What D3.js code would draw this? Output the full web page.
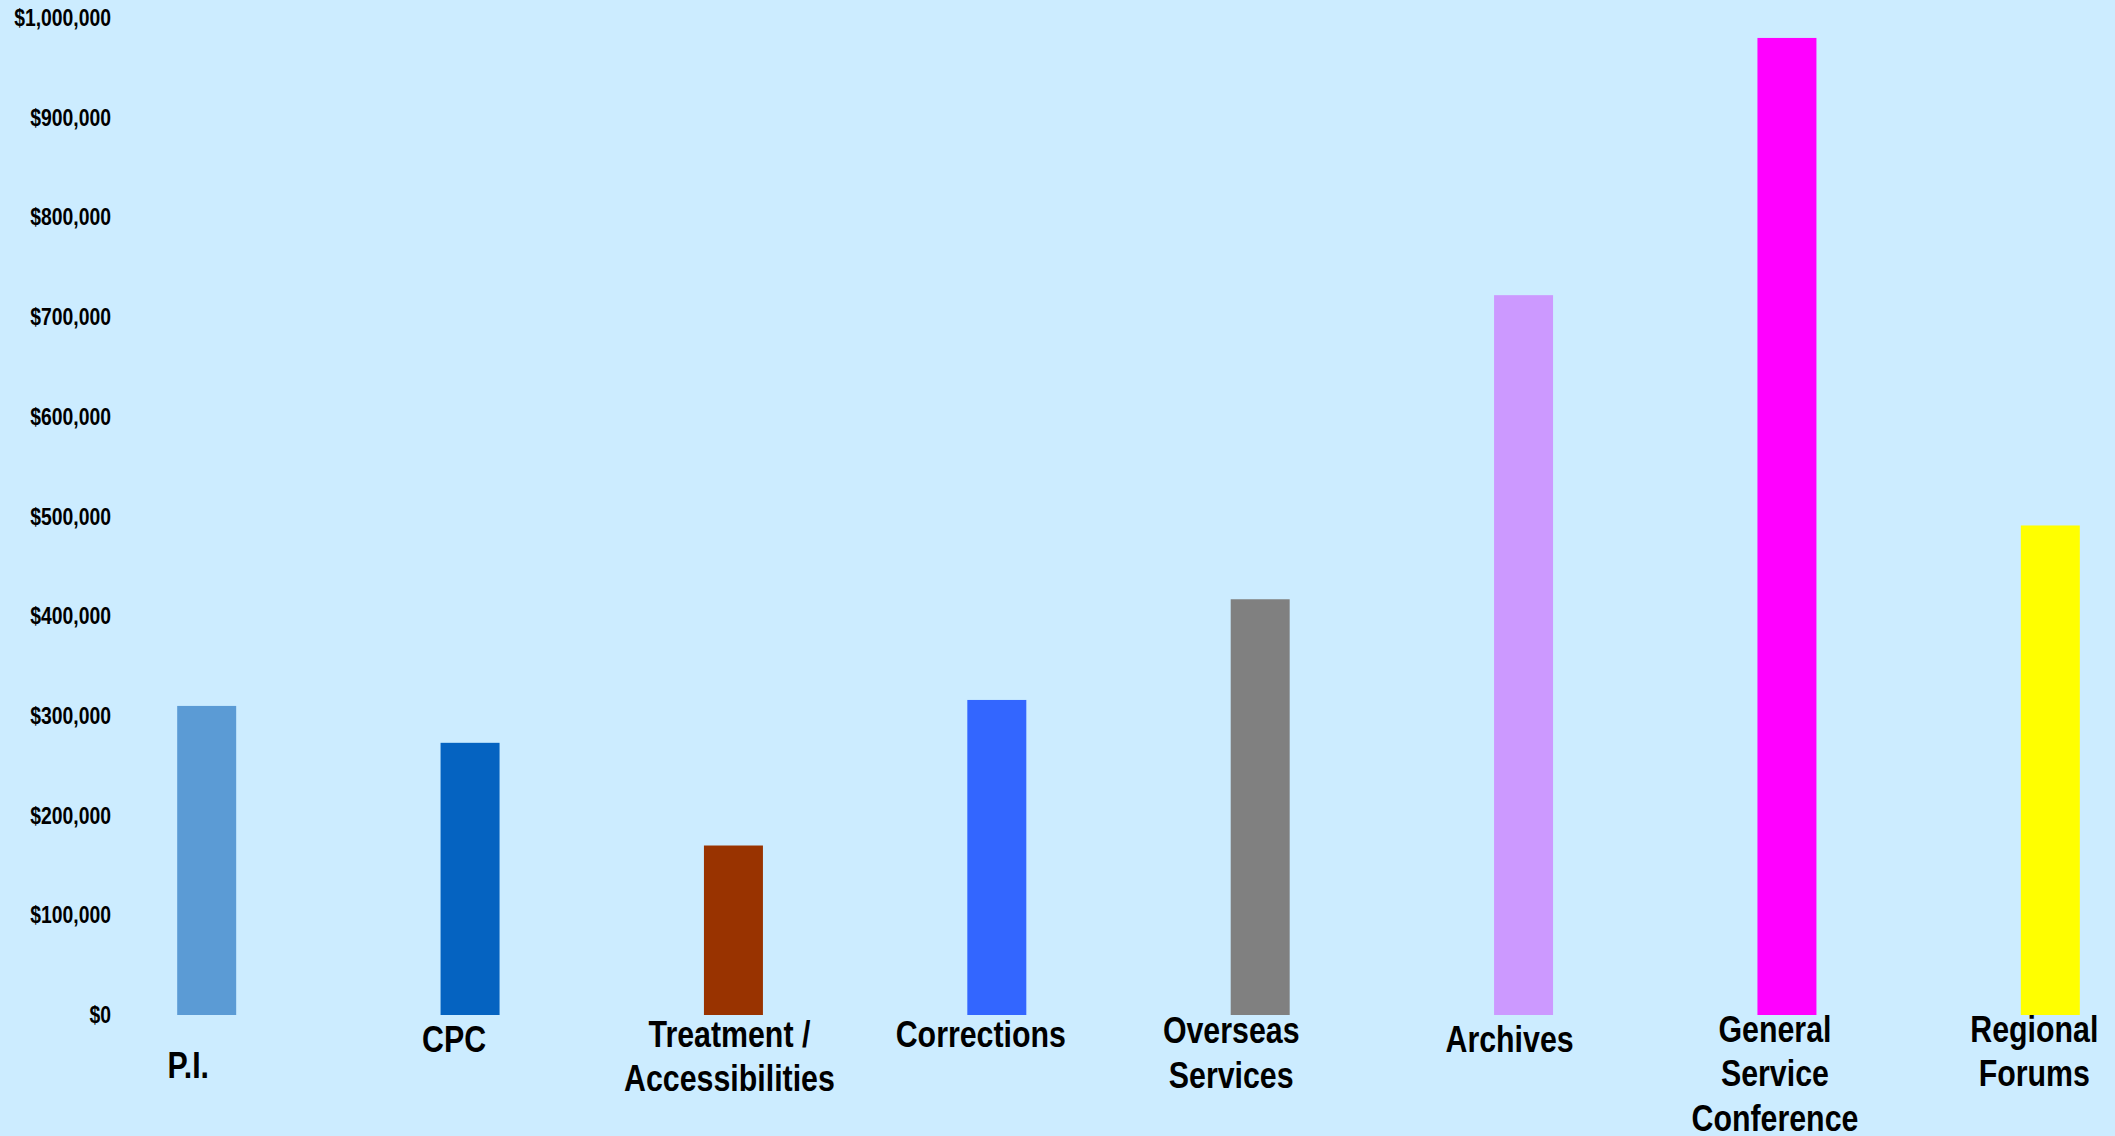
<!DOCTYPE html>
<html>
<head>
<meta charset="utf-8">
<script src="https://cdn.jsdelivr.net/npm/d3@7"></script>
<style>
  html, body { margin: 0; padding: 0; background: #CCECFF; }
  svg { display: block; }
  text { font-family: "Liberation Sans Narrow", "Arial Narrow", "Liberation Sans", Arial, sans-serif; font-weight: bold; fill: #000; }
</style>
</head>
<body>
<svg id="chart"></svg>
<script>
// ---- data ----
const categories = ["P.I.", "CPC", "Treatment / Accessibilities", "Corrections", "Overseas Services", "Archives", "General Service Conference", "Regional Forums"];
const values = [310000, 273000, 170000, 316000, 417000, 722000, 980000, 491000];
const colors = ["#5B9BD5", "#0563C1", "#993300", "#3366FF", "#808080", "#CC99FF", "#FF00FF", "#FFFF00"];
const labelLines = [["P.I."], ["CPC"], ["Treatment /", "Accessibilities"], ["Corrections"], ["Overseas", "Services"], ["Archives"], ["General", "Service", "Conference"], ["Regional", "Forums"]];
const yTicks = [0, 100000, 200000, 300000, 400000, 500000, 600000, 700000, 800000, 900000, 1000000];

// ---- layout (not data) ----
const W = 2115, H = 1136;
const labelDx = [-18.5, -16, -4, -16, -29, -14, -12, -16];
const labelBaseline = [1078, 1052, 1047, 1047, 1043, 1052, 1042, 1042];
const lineHeight = 44.5;

const svg = d3.select("#chart").attr("width", W).attr("height", H);
svg.append("rect").attr("width", W).attr("height", H).attr("fill", "#CCECFF");

// detect whether a narrow font is available; otherwise condense horizontally
function narrowScale() {
  const probe = svg.append("text").style("font-size", "100px").text("Corrections 1,000,000");
  probe.style("font-family", '"Liberation Sans", Arial, sans-serif');
  const wide = probe.node().getComputedTextLength();
  probe.style("font-family", '"Liberation Sans Narrow", "Arial Narrow", "Liberation Sans", Arial, sans-serif');
  const narrow = probe.node().getComputedTextLength();
  probe.remove();
  return (narrow < wide * 0.95) ? 1 : 0.82;
}
const sx = narrowScale();

const x = d3.scaleBand().domain(categories).range([75, 2182]).paddingInner(0.776).paddingOuter(0.388);
const y = d3.scaleLinear().domain([0, 1000000]).range([1015, 18]);

// bars
svg.append("g").selectAll("rect").data(categories).join("rect")
  .attr("x", d => x(d))
  .attr("width", x.bandwidth())
  .attr("y", (d, i) => y(values[i]))
  .attr("height", (d, i) => y(0) - y(values[i]))
  .attr("fill", (d, i) => colors[i]);

// y axis
const fmt = d3.format("$,.0f");
const pad = 9;
const yAxis = d3.axisLeft(y).tickValues(yTicks).tickFormat(fmt).tickSize(0).tickPadding(pad);
const gy = svg.append("g").attr("transform", "translate(120,0)").call(yAxis);
gy.select(".domain").remove();
gy.selectAll("text")
  .style("font-size", "23.6px").attr("fill", "#000")
  .style("font-family", '"Liberation Sans Narrow", "Arial Narrow", "Liberation Sans", Arial, sans-serif')
  .style("font-weight", "bold")
  .attr("x", -pad / sx)
  .attr("transform", `scale(${sx},1)`);

// category labels
const gl = svg.append("g");
categories.forEach((c, i) => {
  const cx = x(c) + x.bandwidth() / 2 + labelDx[i];
  const t = gl.append("text")
    .attr("text-anchor", "middle")
    .attr("transform", `translate(${cx},0) scale(${sx},1)`)
    .style("font-size", "37px");
  labelLines[i].forEach((ln, j) => {
    t.append("tspan").attr("x", 0).attr("y", labelBaseline[i] + j * lineHeight).text(ln);
  });
});
</script>
</body>
</html>
